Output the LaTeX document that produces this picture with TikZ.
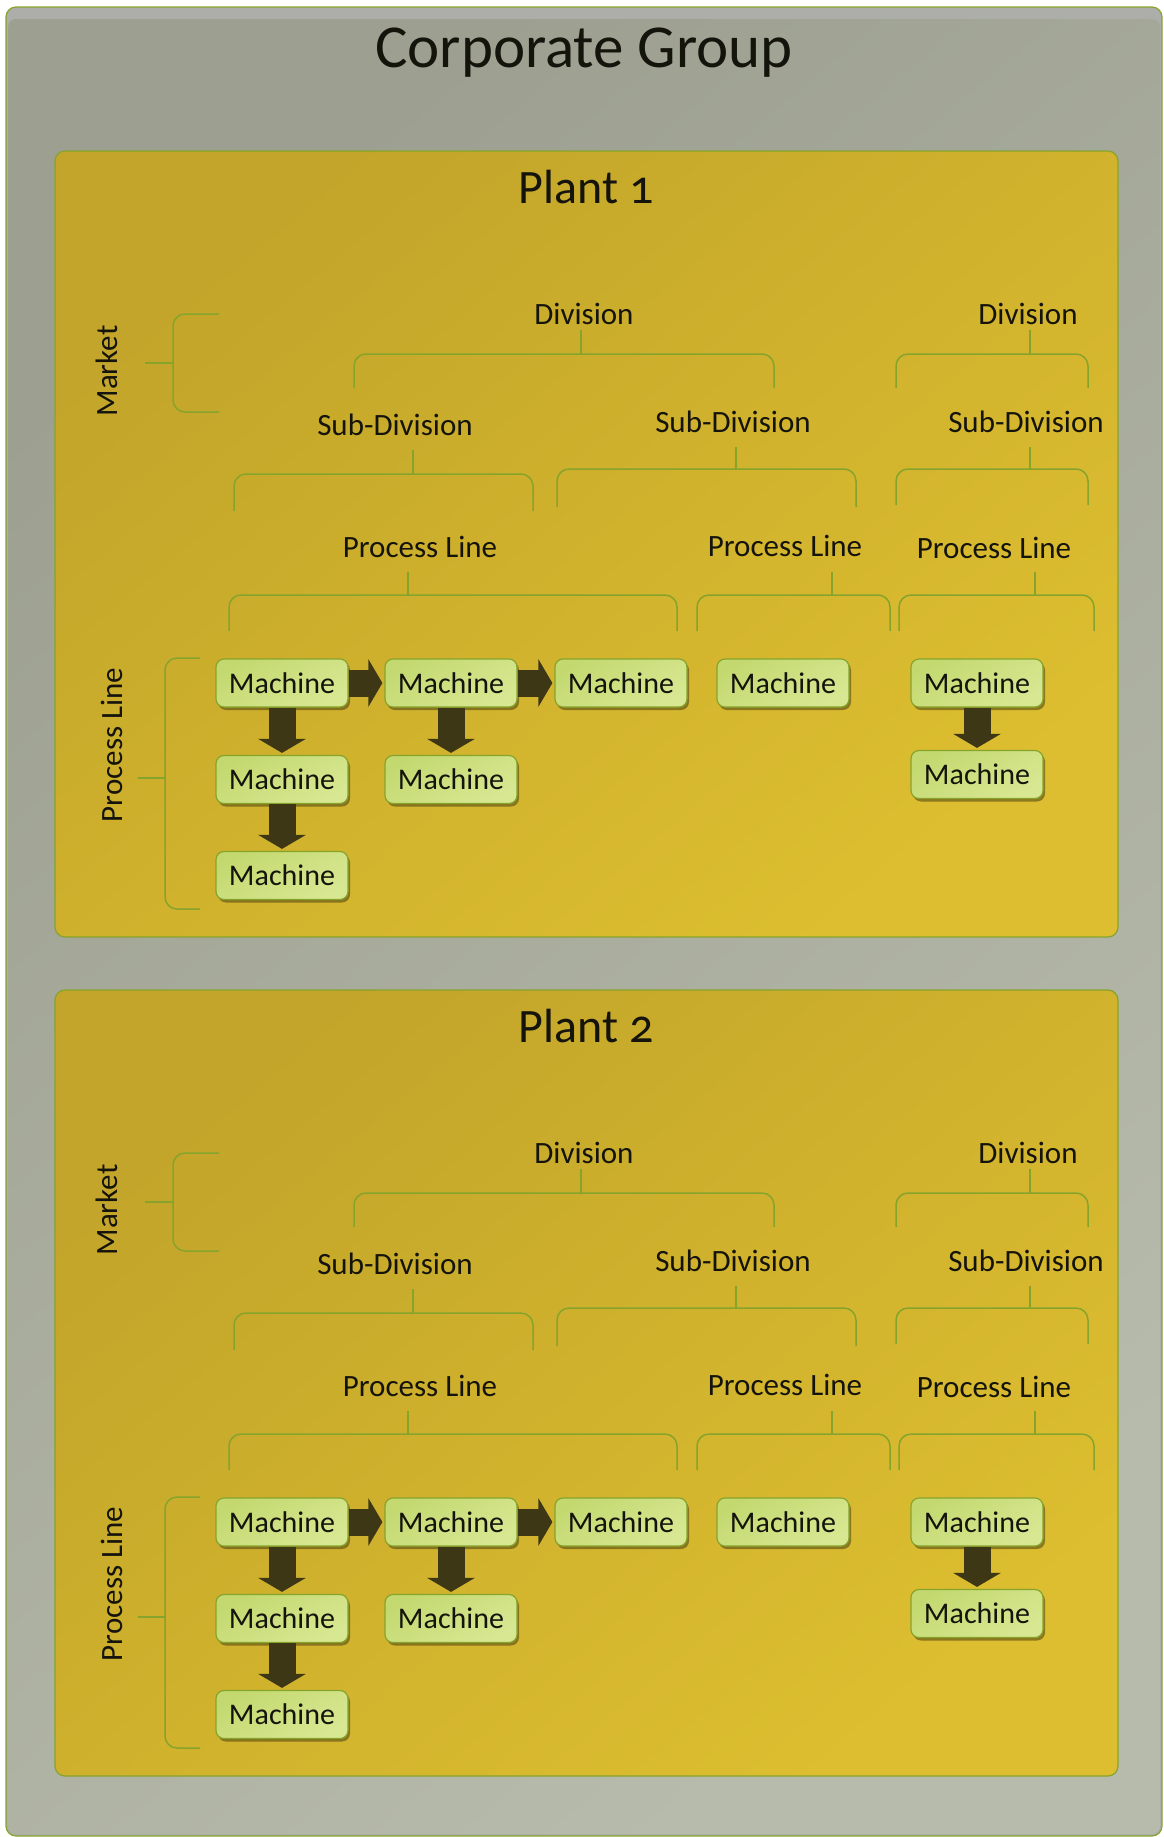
\documentclass[tikz,border=0pt]{standalone}
\usepackage{fontspec}
\setmainfont{Carlito}[Numbers=OldStyle]
\usepackage{tikz}
\usetikzlibrary{arrows.meta,shadows,positioning}
\usepackage{xcolor}

\definecolor{groupA}{HTML}{9DA091}
\definecolor{groupB}{HTML}{B7BBAC}
\definecolor{rimgrey}{HTML}{ADADAA}
\definecolor{plantA}{HTML}{C2A52A}
\definecolor{plantB}{HTML}{DDBE30}
\definecolor{edgegreen}{HTML}{86A42C}
\definecolor{machA}{HTML}{C3D970}
\definecolor{machB}{HTML}{D8E792}
\definecolor{flowdark}{HTML}{3E3715}
\definecolor{inkdark}{HTML}{15140C}

\begin{document}
\begin{tikzpicture}[x=1pt, y=-1pt, text=inkdark,
    machine/.style={draw=edgegreen, line width=1.2pt, rounded corners=8pt,
      top color=machA, bottom color=machB, shading angle=30,
      minimum width=132pt, minimum height=48pt, inner sep=0pt,
      font=\fontsize{30}{36}\selectfont,
      drop shadow={shadow xshift=2pt, shadow yshift=-3pt, fill=black!55!plantA, opacity=0.6}},
    lbl/.style={font=\fontsize{31}{37}\selectfont, inner sep=0pt, anchor=base},
    sidelbl/.style={font=\fontsize{31}{37}\selectfont, inner sep=0pt, rotate=90},
    brline/.style={draw=edgegreen, line width=1.5pt, rounded corners=12pt},
    flow/.style={draw=flowdark, line width=27pt, -{Triangle[width=47pt, length=14pt]}, shorten >=2pt},
    plant/.style={draw=edgegreen, line width=1.2pt, rounded corners=10pt,
      top color=plantA, bottom color=plantB, shading angle=40}]
  \useasboundingbox (0,0) rectangle (1163,1837);

  % Corporate group frame
  \draw[draw=edgegreen, line width=1.2pt, fill=rimgrey, rounded corners=10pt] (6,7) rectangle (1162,1836);
  \shade[rounded corners=8pt, top color=groupA, bottom color=groupB, shading angle=40] (8,19) rectangle (1160,1834);
  \node[anchor=base, inner sep=0pt, font=\fontsize{61}{70}\selectfont] (corp) at (584,67) {Corporate Group};

  \foreach \p/\dy in {1/0, 2/839}{
    \begin{scope}[yshift=-\dy pt]
      % Plant panel
      \draw[plant] (55,151) rectangle (1118,937);
      \node[anchor=base, inner sep=0pt, font=\fontsize{48}{56}\selectfont] (plant\p) at (586,203) {Plant \p};

      % Market bracket
      \node[sidelbl] (mkt\p) at (107,371) {Market};
      \draw[brline] (145,363) -- (173,363);
      \draw[brline] (219,314) -| (173,412) -- (219,412);

      % Divisions
      \node[lbl] (p\p-div1) at (584,324) {Division};
      \node[lbl] (p\p-div2) at (1028,324) {Division};
      \draw[brline] ([shift={(-3,6)}]p\p-div1.base) -- ++(0,24);
      \draw[brline] (354,388) |- (774,354) -- (774,388);
      \draw[brline] ([shift={(2,6)}]p\p-div2.base) -- ++(0,24);
      \draw[brline] (896,388) |- (1088,354) -- (1088,388);

      % Sub-divisions
      \node[lbl] (p\p-sd1) at (395,435) {Sub-Division};
      \node[lbl] (p\p-sd2) at (733,432) {Sub-Division};
      \node[lbl] (p\p-sd3) at (1026,432) {Sub-Division};
      \draw[brline] ([shift={(18,15)}]p\p-sd1.base) -- ++(0,24);
      \draw[brline] (234,511) |- (533,474) -- (533,511);
      \draw[brline] ([shift={(3,15)}]p\p-sd2.base) -- ++(0,22);
      \draw[brline] (557,507) |- (856,469) -- (856,507);
      \draw[brline] ([shift={(4,15)}]p\p-sd3.base) -- ++(0,22);
      \draw[brline] (896,505) |- (1088,469) -- (1088,505);

      % Process lines
      \node[lbl] (p\p-pl1) at (420,557) {Process Line};
      \node[lbl] (p\p-pl2) at (785,556) {Process Line};
      \node[lbl] (p\p-pl3) at (994,558) {Process Line};
      \draw[brline] ([shift={(-12,15)}]p\p-pl1.base) -- ++(0,23);
      \draw[brline] (229,631) |- (677,595) -- (677,631);
      \draw[brline] ([shift={(47,16)}]p\p-pl2.base) -- ++(0,23);
      \draw[brline] (697,631) |- (890,595) -- (890,631);
      \draw[brline] ([shift={(41,14)}]p\p-pl3.base) -- ++(0,23);
      \draw[brline] (899,631) |- (1094,595) -- (1094,631);

      % Process line bracket
      \node[sidelbl] (pln\p) at (112,745) {Process Line};
      \draw[brline] (138,778) -- (165,778);
      \draw[brline] (200,658) -| (165,909) -- (200,909);

      % Machines
      \node[machine] (p\p-ma) at (282,683) {Machine};
      \node[machine] (p\p-mb) at (451,683) {Machine};
      \node[machine] (p\p-mc) at (621,683) {Machine};
      \node[machine] (p\p-md) at (783,683) {Machine};
      \node[machine] (p\p-me) at (977,683) {Machine};
      \node[machine] (p\p-mf) at (282,779.5) {Machine};
      \node[machine] (p\p-mg) at (451,779.5) {Machine};
      \node[machine] (p\p-mh) at (282,875.5) {Machine};
      \node[machine] (p\p-mi) at (977,774.5) {Machine};

      % Flow arrows
      \draw[flow] (p\p-ma) -- (p\p-mb);
      \draw[flow] (p\p-mb) -- (p\p-mc);
      \draw[flow] (p\p-ma) -- (p\p-mf);
      \draw[flow] (p\p-mf) -- (p\p-mh);
      \draw[flow] (p\p-mb) -- (p\p-mg);
      \draw[flow] (p\p-me) -- (p\p-mi);
    \end{scope}
  }
\end{tikzpicture}
\end{document}
